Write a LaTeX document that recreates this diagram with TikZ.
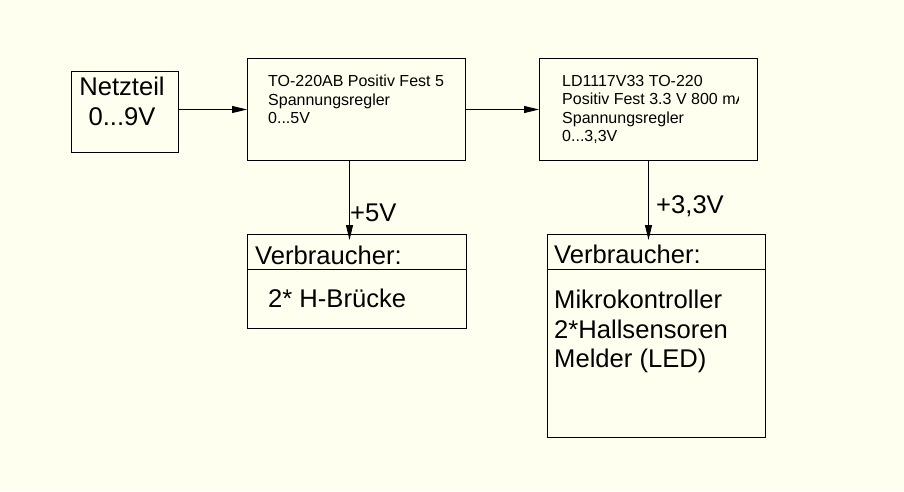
\documentclass[tikz,border=0pt]{standalone}
\usepackage{fontspec}
\setmainfont{Liberation Sans}
\usetikzlibrary{arrows.meta}
\definecolor{papier}{RGB}{255,255,240}
\begin{document}
\begin{tikzpicture}[x=1pt,y=-1pt,
                kasten/.style={draw, line width=1pt, rectangle, inner sep=0pt, anchor=north west},
                gross/.style={font=\fontsize{25.6}{29.5}\selectfont, inner sep=0pt},
                klein/.style={font=\fontsize{16}{18.5}\selectfont, inner sep=0pt, align=left, anchor=north west},
                pfeil/.style={line width=1pt, -{Triangle[length=15pt,width=7pt]}}]
                \fill[papier] (0,0) rectangle (904,491);
                \node[kasten, minimum width=107pt, minimum height=81pt] (netz) at (71,71) {};
                \node[kasten, minimum width=218pt, minimum height=102pt] (regA) at (247,58) {};
                \node[kasten, minimum width=218pt, minimum height=102pt] (regB) at (539,58) {};
                \node[kasten, minimum width=219pt, minimum height=94pt] (lastA) at (247,234) {};
                \node[kasten, minimum width=218pt, minimum height=203pt] (lastB) at (547,234) {};
                \draw[line width=1pt] ([yshift=-35pt]lastA.north west) -- ([yshift=-35pt]lastA.north east);
                \draw[line width=1pt] ([yshift=-35pt]lastB.north west) -- ([yshift=-35pt]lastB.north east);
                \node[gross, align=center, anchor=north] (netztxt) at (122,77) {Netzteil\\0...9V};
                \node[klein] (regAtxt) at (268,75) {TO-220AB Positiv Fest 5\\Spannungsregler\\0...5V};
                \begin{scope}
                \clip (regB.north west) rectangle ([xshift=-20pt]regB.south east);
                \node[klein] (regBtxt) at (562,75) {LD1117V33 TO-220\\Positiv Fest 3.3 V 800 mA\\Spannungsregler\\0...3,3V};
                \end{scope}
                \node[gross, anchor=base west] (kopfA) at (255,264) {Verbraucher:};
                \node[gross, anchor=base west] (kopfB) at (554,263) {Verbraucher:};
                \node[gross, anchor=base west] (bruecke) at (268,307) {2* H-Brücke};
                \node[gross, align=left, anchor=north west] (liste) at (554,290) {Mikrokontroller\\2*Hallsensoren\\Melder (LED)};
                \node[gross, anchor=base west] (fuenf) at (350,221) {+5V};
                \node[gross, anchor=base west] (dreidrei) at (656,213) {+3,3V};
                \draw[pfeil] (regA.west -| netz.east) -- (regA.west);
                \draw[pfeil] (regA.east) -- (regB.west);
                \draw[pfeil, shorten >=-6pt] ([xshift=-7pt]regA.south) -- ([xshift=-7pt]regA.south |- lastA.north);
                \draw[pfeil, shorten >=-6pt] (regB.south) -- (regB.south |- lastB.north);
            \end{tikzpicture}
\end{document}
